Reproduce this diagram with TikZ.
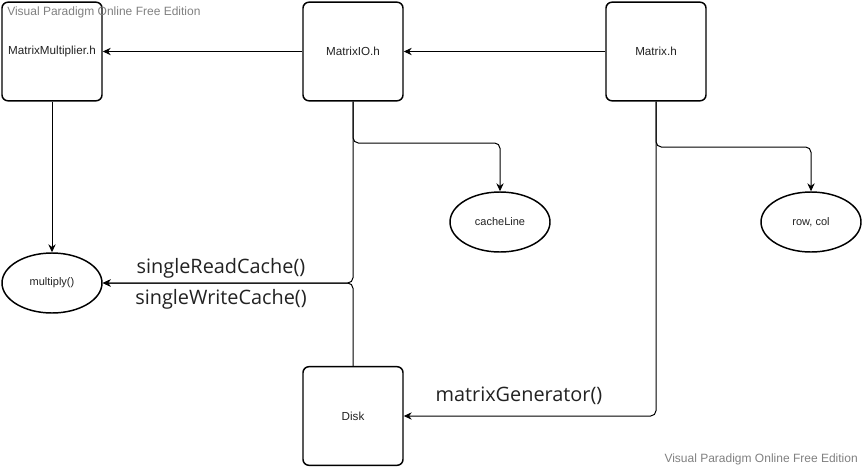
\documentclass[tikz,border=0pt]{standalone}
\usepackage{fontspec}
\setmainfont{Liberation Sans}
\newfontfamily\labfont{Open Sans}
\usetikzlibrary{arrows.meta,shapes.geometric}
\definecolor{wm}{HTML}{808080}
\definecolor{txt}{HTML}{222222}
\tikzset{
  filebox/.style={draw=black, line width=1.1pt, rounded corners=4.5pt, minimum width=75pt, minimum height=74pt, inner sep=0pt, font=\fontsize{8.75}{10}\selectfont, text=txt},
  oval/.style={draw=black, ellipse, line width=1.1pt, minimum width=75pt, minimum height=45pt, inner sep=0pt, font=\fontsize{8.25}{10}\selectfont, text=txt},
  conn/.style={draw=black, line width=0.75pt, rounded corners=4pt, -{Stealth[length=6pt,width=5.5pt,inset=2pt]}},
  elabel/.style={font=\labfont\fontsize{14.9}{17}\selectfont, text=txt, inner sep=0pt},
  watermark/.style={font=\fontsize{9}{11}\selectfont, text=wm, inner sep=0pt}
}
\begin{document}
\begin{tikzpicture}[x=0.75pt,y=-0.75pt]
\useasboundingbox (0,0) rectangle (863,468);
\node[filebox] (mm) at (52,51.5) {MatrixMultiplier.h};
\node[filebox] (io) at (353,51.5) {MatrixIO.h};
\node[filebox] (mx) at (656,51.5) {Matrix.h};
\node[filebox] (disk) at (353,416) {Disk};
\node[oval] (mul) at (52,283) {multiply()};
\node[oval] (cache) at (500,222) {cacheLine};
\node[oval] (rc) at (811,222) {row, col};
\coordinate (j1) at (500,143);
\coordinate (j2) at (811,147);
\draw[conn] (io.west) -- (mm.east);
\draw[conn] (mx.west) -- (io.east);
\draw[conn] (mm.south) -- (mul.north);
\draw[conn] (io.south) |- (j1) -- (cache.north);
\draw[conn] (mx.south) |- (j2) -- (rc.north);
\draw[conn] (io.south) |- (mul.east);
\draw[conn] (disk.north) |- (mul.east);
\draw[conn] (mx.south) |- (disk.east);
\node[elabel] (lread) at (221,268) {singleReadCache()};
\node[elabel] (lwrite) at (221,299) {singleWriteCache()};
\node[elabel] (lgen) at (519,396) {matrixGenerator()};
\node[watermark, anchor=west] (wm1) at (7,12) {Visual Paradigm Online Free Edition};
\node[watermark, anchor=east] (wm2) at (858,459) {Visual Paradigm Online Free Edition};
\end{tikzpicture}
\end{document}
